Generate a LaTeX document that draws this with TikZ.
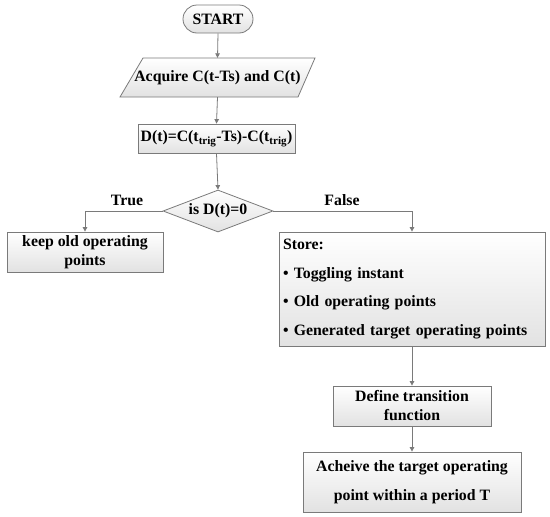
\documentclass[tikz,border=0pt]{standalone}
\usepackage{fontspec}
\setmainfont{Liberation Serif}
\usetikzlibrary{arrows.meta,shapes.geometric,calc}
\definecolor{edgegray}{HTML}{7A7A7A}
\definecolor{boxgray}{HTML}{E2E2E2}
\tikzset{
  base/.style={draw=edgegray, line width=0.8pt, top color=white, bottom color=boxgray,
    font=\fontsize{15.8}{19}\selectfont\bfseries, align=center, inner sep=2pt},
  procbox/.style={base, rectangle},
  conn/.style={draw=edgegray, line width=0.8pt, -{Triangle[width=4.5pt,length=4.5pt]}},
  lbl/.style={font=\fontsize{15.8}{19}\selectfont\bfseries, inner sep=0pt},
}
\begin{document}
\begin{tikzpicture}[x=1pt,y=-1pt]
\useasboundingbox (0,0) rectangle (550,517);
% START
\node[base, rounded corners=14pt, minimum width=70pt, minimum height=28pt] (start) at (218,19) {START};
% parallelogram
\coordinate (p1) at (143,58);
\coordinate (p2) at (315,58);
\coordinate (p3) at (298,97);
\coordinate (p4) at (120,97);
\path[draw=edgegray, line width=0.8pt, top color=white, bottom color=boxgray] (p1) -- (p2) -- (p3) -- (p4) -- cycle;
\node[lbl, minimum width=178pt, minimum height=39pt] (acq) at (217.5,77.5) {Acquire C(t-Ts) and C(t)};
% D(t)
\node[procbox, minimum width=157pt, minimum height=29pt] (dbox) at (216.5,138.5)
  {D(t)=C(t\textsubscript{trig}-Ts)-C(t\textsubscript{trig})};
% diamond
\node[base, shape=diamond, shape aspect=2.62, minimum width=110pt, minimum height=42pt, inner sep=0pt] (dia) at (218,211) {is D(t)=0};
% keep
\node[procbox, minimum width=156pt, minimum height=40pt] (keep) at (85,252) {keep old operating\\points};
% store
\node[procbox, minimum width=266pt, minimum height=114pt, align=left, text width=258pt, font=\fontsize{15.8}{28.5}\selectfont\bfseries] (store) at (412,289)
  {Store:\\\textbullet\ Toggling instant\\\textbullet\ Old operating points\\\textbullet\ Generated target operating points};
% define
\node[procbox, minimum width=158pt, minimum height=40pt] (define) at (412,406) {Define transition\\function};
% achieve
\node[procbox, minimum width=218pt, minimum height=60pt, font=\fontsize{15.8}{29}\selectfont\bfseries] (ach) at (412,482) {Acheive the target operating\\point within a period T};
% connectors
\draw[conn] (start.south) -- (acq.north);
\draw[conn] (acq.south) -- (dbox.north);
\draw[conn] (dbox.south) -- (dia.north);
\draw[conn] (dia.west) -| (keep.north);
\draw[conn] (dia.east) -| (store.north);
\draw[conn] (store.south) -- (define.north);
\draw[conn] (define.south) -- (ach.north);
% labels
\node[lbl] (truelbl) at (127,200) {True};
\node[lbl] (falselbl) at (342,200) {False};
\end{tikzpicture}
\end{document}
